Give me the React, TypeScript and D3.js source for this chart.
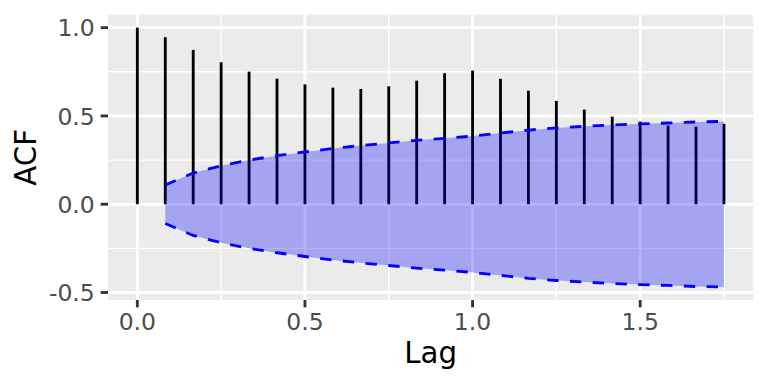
import React from "react";
import * as d3 from "d3";

const lags = [0, 1, 2, 3, 4, 5, 6, 7, 8, 9, 10, 11, 12, 13, 14, 15, 16, 17, 18, 19, 20, 21];
const acfValues = [1.0, 0.946, 0.874, 0.804, 0.751, 0.711, 0.679, 0.66, 0.653, 0.668, 0.7, 0.742, 0.757, 0.71, 0.643, 0.585, 0.536, 0.496, 0.468, 0.445, 0.439, 0.455];
const ciLags = [1, 2, 3, 4, 5, 6, 7, 8, 9, 10, 11, 12, 13, 14, 15, 16, 17, 18, 19, 20, 21];
const ciUpper = [0.109, 0.177, 0.218, 0.25, 0.275, 0.296, 0.316, 0.332, 0.347, 0.362, 0.373, 0.386, 0.403, 0.42, 0.432, 0.441, 0.449, 0.455, 0.46, 0.466, 0.469];
const xTicks = [0, 0.5, 1.0, 1.5];
const xMinor = [0.25, 0.75, 1.25, 1.75];
const yTicks = [-0.5, 0, 0.5, 1.0];
const yMinor = [-0.25, 0.25, 0.75];
const freq = 12;

const fmt = (v: number) => v.toFixed(1);

export default function App() {
  const W = 768, H = 384;
  const pl = 108, pr = 753.3, pt = 14.7, pb = 300;
  const xMax = lags[lags.length - 1] / freq;
  const xPad = xMax * 0.05;
  const x = d3.scaleLinear().domain([-xPad, xMax + xPad]).range([pl, pr]);
  const yLo = -d3.max(ciUpper)!;
  const yHi = d3.max(acfValues)!;
  const yPad = (yHi - yLo) * 0.05;
  const y = d3.scaleLinear().domain([yLo - yPad, yHi + yPad]).range([pb, pt]);

  const area = d3.area<number>()
    .x((_, i) => x(ciLags[i] / freq))
    .y0((d) => y(-d))
    .y1((d) => y(d));
  const upper = d3.line<number>().x((_, i) => x(ciLags[i] / freq)).y((d) => y(d));
  const lower = d3.line<number>().x((_, i) => x(ciLags[i] / freq)).y((d) => y(-d));

  const gridW = 2.84;
  const font = "DejaVu Sans, sans-serif";
  return (
    <svg width={W} height={H} style={{ position: "absolute", left: 0, top: 0, background: "#fff" }}>
      <rect x={0} y={0} width={W} height={H} fill="#fff" />
      <rect x={pl} y={pt} width={pr - pl} height={pb - pt} fill="#EBEBEB" />
      {yMinor.map((v) => (
        <line key={"ym" + v} x1={pl} x2={pr} y1={y(v)} y2={y(v)} stroke="#fff" strokeWidth={gridW / 2} />
      ))}
      {xMinor.map((v) => (
        <line key={"xm" + v} y1={pt} y2={pb} x1={x(v)} x2={x(v)} stroke="#fff" strokeWidth={gridW / 2} />
      ))}
      {yTicks.map((v) => (
        <line key={"yg" + v} x1={pl} x2={pr} y1={y(v)} y2={y(v)} stroke="#fff" strokeWidth={gridW} />
      ))}
      {xTicks.map((v) => (
        <line key={"xg" + v} y1={pt} y2={pb} x1={x(v)} x2={x(v)} stroke="#fff" strokeWidth={gridW} />
      ))}
      {lags.map((l, i) => (
        <line key={"b" + l} x1={x(l / freq)} x2={x(l / freq)} y1={y(0)} y2={y(acfValues[i])} stroke="#000" strokeWidth={gridW} />
      ))}
      <path d={area(ciUpper)!} fill="blue" fillOpacity={0.3} />
      <path d={upper(ciUpper)!} fill="none" stroke="blue" strokeWidth={gridW} strokeDasharray="11.4,11.4" />
      <path d={lower(ciUpper)!} fill="none" stroke="blue" strokeWidth={gridW} strokeDasharray="11.4,11.4" />
      {yTicks.map((v) => (
        <g key={"yt" + v}>
          <line x1={pl - 7.33} x2={pl} y1={y(v)} y2={y(v)} stroke="#333" strokeWidth={gridW} />
          <text x={pl - 7.33 - 5.87} y={y(v) + 8.6} textAnchor="end" fontFamily={font} fontSize={23.5} fill="#4D4D4D">
            {fmt(v)}
          </text>
        </g>
      ))}
      {xTicks.map((v) => (
        <g key={"xt" + v}>
          <line y1={pb} y2={pb + 7.33} x1={x(v)} x2={x(v)} stroke="#333" strokeWidth={gridW} />
          <text x={x(v)} y={330} textAnchor="middle" fontFamily={font} fontSize={23.5} fill="#4D4D4D">
            {fmt(v)}
          </text>
        </g>
      ))}
      <text x={(pl + pr) / 2} y={363.3} textAnchor="middle" fontFamily={font} fontSize={29.3} fill="#000">Lag</text>
      <text transform={`translate(36,${(pt + pb) / 2}) rotate(-90)`} textAnchor="middle" fontFamily={font} fontSize={29.3} fill="#000">ACF</text>
    </svg>
  );
}
